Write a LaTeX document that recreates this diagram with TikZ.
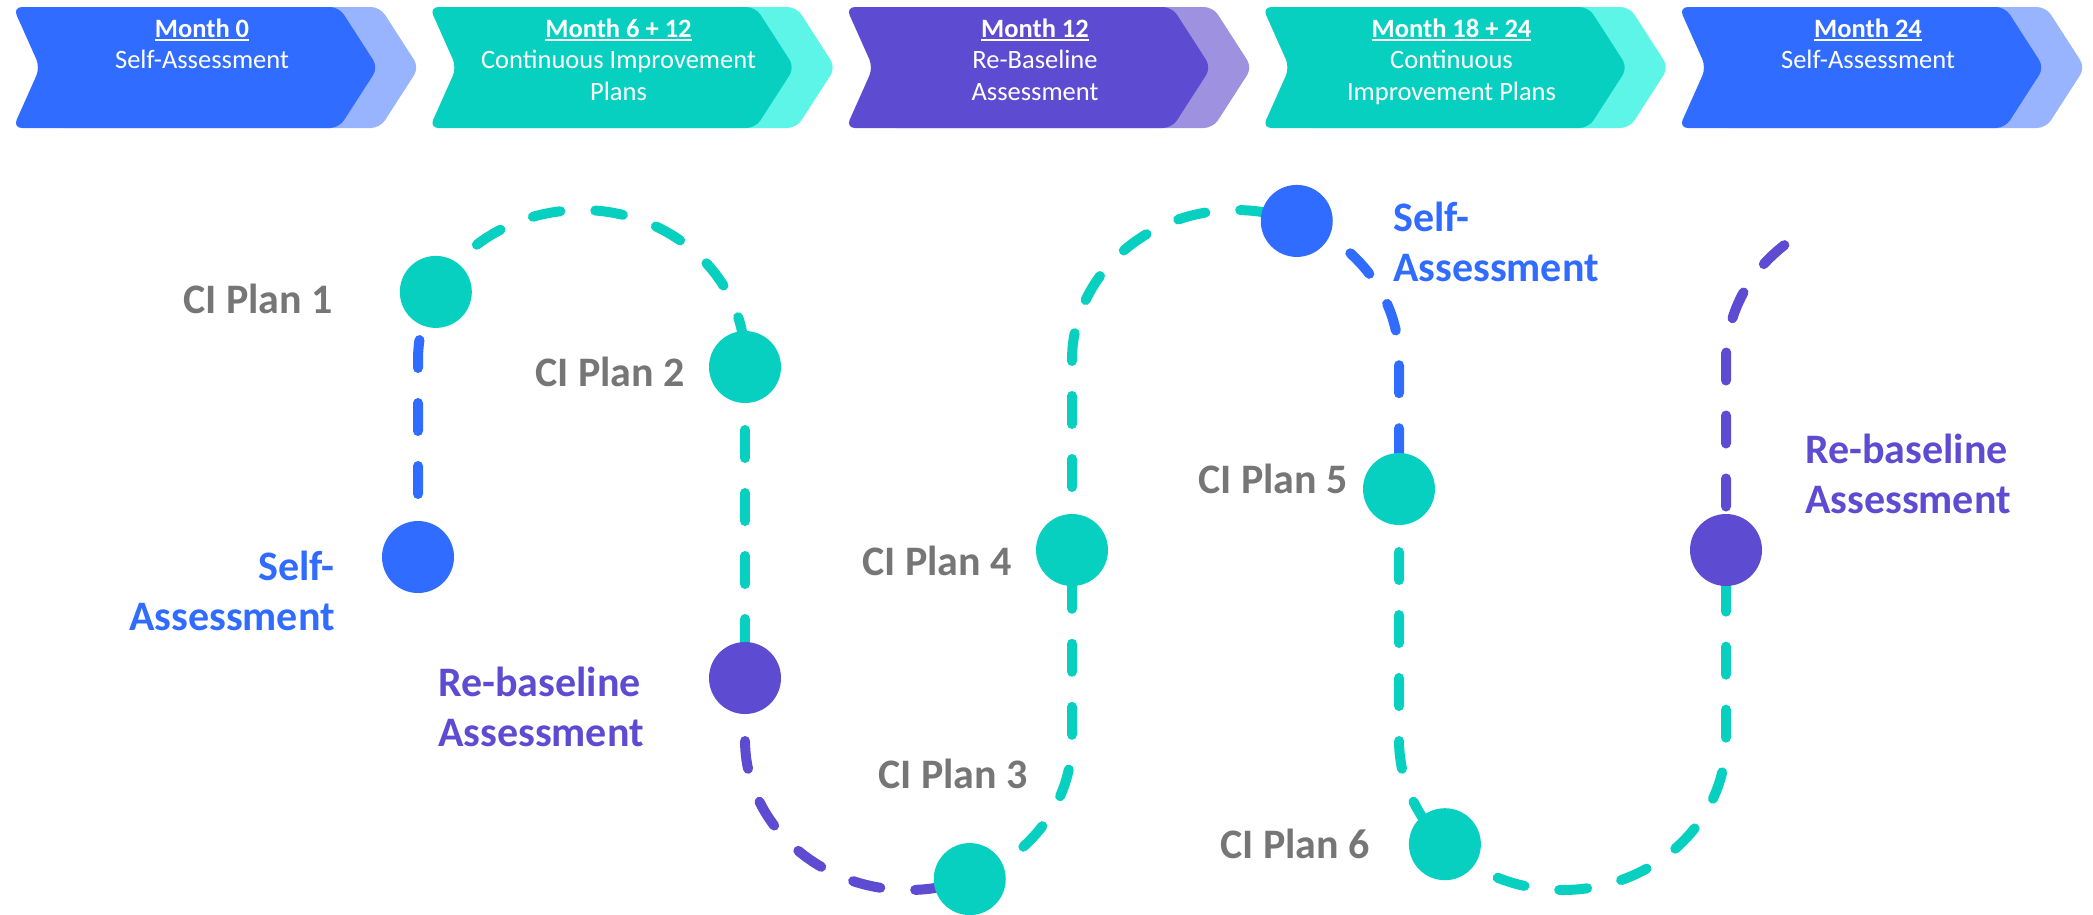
\documentclass[tikz,border=0pt]{standalone}
\usepackage{fontspec}
\setmainfont{Carlito}
\usetikzlibrary{calc}
\definecolor{cblue}{HTML}{306CFF}
\definecolor{cteal}{HTML}{07D0C0}
\definecolor{cpurple}{HTML}{5D4BD1}
\definecolor{lblue}{HTML}{99B4FF}
\definecolor{lteal}{HTML}{5CF5E8}
\definecolor{lpurple}{HTML}{9E91E0}
\definecolor{cgray}{HTML}{767676}
\newcommand\ulm[1]{\setbox0\hbox{\textbf{#1}}\rlap{\rule[-4pt]{\wd0}{1.8pt}}\box0}
\pgfdeclarelayer{bg}
\pgfsetlayers{bg,main}
\begin{document}
\begin{tikzpicture}[x=1pt,y=-1pt,
  dot/.style={circle,minimum size=72pt,inner sep=0pt},
  link/.style={line width=10pt,line cap=round,dash pattern=on 28pt off 35pt},
  lbl/.style={font=\fontsize{42}{50}\selectfont\bfseries,inner sep=0pt},
  chevtext/.style={font=\fontsize{26.5}{31.5}\selectfont,text=white,align=center,inner sep=0pt,anchor=north},
  ell/.style={x radius=163.5,y radius=150}]
\useasboundingbox (0,0) rectangle (2093,914);

% chevrons
\foreach \L/\dk/\lt in {13/cblue/lblue, 429.5/cteal/lteal, 846/cpurple/lpurple, 1262.5/cteal/lteal, 1679/cblue/lblue}{
  \fill[\lt,rounded corners=9pt] (\L+41,7) -- (\L+367,7) -- (\L+406,67.5) -- (\L+367,128) -- (\L+41,128) -- (\L+68,67.5) -- cycle;
  \fill[\dk,rounded corners=9pt] (\L,7) -- (\L+326,7) -- (\L+365,67.5) -- (\L+326,128) -- (\L,128) -- (\L+27,67.5) -- cycle;
}
\node[chevtext] (h1) at (13+189,17) {\rule{0pt}{20pt}\ulm{Month 0}\\Self-Assessment};
\node[chevtext] (h2) at (429.5+189,17) {\rule{0pt}{20pt}\ulm{Month 6 + 12}\\Continuous Improvement\\Plans};
\node[chevtext] (h3) at (846+189,17) {\rule{0pt}{20pt}\ulm{Month 12}\\Re-Baseline\\Assessment};
\node[chevtext] (h4) at (1262.5+189,17) {\rule{0pt}{20pt}\ulm{Month 18 + 24}\\Continuous\\Improvement Plans};
\node[chevtext] (h5) at (1679+189,17) {\rule{0pt}{20pt}\ulm{Month 24}\\Self-Assessment};

% circles
\node[dot,fill=cblue] (sa1) at (418,557) {};
\node[dot,fill=cteal] (ci1) at ($(581.5,360)+(207:163.5 and 150)$) {};
\node[dot,fill=cteal] (ci2) at (745,367) {};
\node[dot,fill=cpurple] (rb1) at (745,678) {};
\node[dot,fill=cteal] (ci3) at ($(908.5,740)+(68:163.5 and 150)$) {};
\node[dot,fill=cteal] (ci4) at (1072,550) {};
\node[dot,fill=cblue] (sa2) at ($(1235.5,360)+(292:163.5 and 150)$) {};
\node[dot,fill=cteal] (ci5) at (1399,489) {};
\node[dot,fill=cteal] (ci6) at ($(1562.5,740)+(136:163.5 and 150)$) {};
\node[dot,fill=cpurple] (rb2) at (1726,550) {};

% path
\begin{pgfonlayer}{bg}
\draw[link,cblue] (sa1.center) -- (418,360) arc[start angle=180,end angle=207,ell];
\draw[link,cteal] (ci1.center) arc[start angle=207,end angle=360,ell] -- (ci2.center);
\draw[link,cteal] (ci2.center) -- (rb1.center);
\draw[link,cpurple] (rb1.center) -- (745,740) arc[start angle=180,end angle=68,ell];
\draw[link,cteal] (ci3.center) arc[start angle=68,end angle=0,ell] -- (ci4.center);
\draw[link,cteal] (ci4.center) -- (1072,360) arc[start angle=180,end angle=292,ell];
\draw[link,cblue] (sa2.center) arc[start angle=292,end angle=360,ell] -- (ci5.center);
\draw[link,cteal] (ci5.center) -- (1399,740) arc[start angle=180,end angle=136,ell];
\draw[link,cteal] (ci6.center) arc[start angle=136,end angle=0,ell] -- (rb2.center);
\draw[link,cpurple,dash phase=19.5pt] (rb2.center) -- (1726,360) arc[start angle=180,end angle=230,ell] coordinate (tail);
\end{pgfonlayer}

% labels
\node[lbl,text=cgray,anchor=base east] (l1) at (333,313) {CI Plan 1};
\node[lbl,text=cblue,align=right,anchor=north east] (l2) at (335,548) {\rule{0pt}{32pt}Self-\\Assessment};
\node[lbl,text=cgray,anchor=base east] (l3) at (685,386) {CI Plan 2};
\node[lbl,text=cpurple,align=left,anchor=north west] (l4) at (438,664) {\rule{0pt}{32pt}Re-baseline\\Assessment};
\node[lbl,text=cgray,anchor=base] (l5) at (953,788) {CI Plan 3};
\node[lbl,text=cgray,anchor=base east] (l6) at (1012,575) {CI Plan 4};
\node[lbl,text=cblue,align=left,anchor=north west] (l7) at (1393,199) {\rule{0pt}{32pt}Self-\\Assessment};
\node[lbl,text=cgray,anchor=base east] (l8) at (1348,493) {CI Plan 5};
\node[lbl,text=cgray,anchor=base east] (l9) at (1370,858) {CI Plan 6};
\node[lbl,text=cpurple,align=left,anchor=north west] (l10) at (1805,431) {\rule{0pt}{32pt}Re-baseline\\Assessment};
\end{tikzpicture}
\end{document}
